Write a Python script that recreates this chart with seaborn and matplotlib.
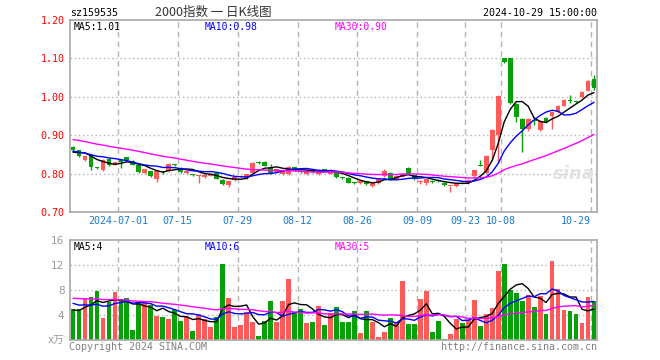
import numpy as np
import pandas as pd
import matplotlib
matplotlib.use("Agg")
import matplotlib.pyplot as plt
import seaborn as sns

# 交易日 (2024-06-19 ~ 2024-10-29), 去掉节假日
start_date = "2024-06-19"
end_date = "2024-10-29"
holidays = ["2024-09-16", "2024-09-17", "2024-10-01", "2024-10-02",
            "2024-10-03", "2024-10-04", "2024-10-07"]
tick_dates = ["2024-07-01", "2024-07-15", "2024-07-29", "2024-08-12", "2024-08-26",
              "2024-09-09", "2024-09-23", "2024-10-08", "2024-10-29"]
tick_labels = ["2024-07-01", "07-15", "07-29", "08-12", "08-26",
               "09-09", "09-23", "10-08", "10-29"]

# 日K数据
open_ = [0.868, 0.861, 0.836, 0.849, 0.816, 0.810, 0.839, 0.823, 0.835, 0.842,
         0.834, 0.823, 0.801, 0.807, 0.787, 0.804, 0.806, 0.823, 0.815, 0.802,
         0.798, 0.794, 0.790, 0.795, 0.801, 0.784, 0.770, 0.784, 0.790, 0.789,
         0.801, 0.829, 0.831, 0.814, 0.805, 0.798, 0.798, 0.816, 0.807, 0.798,
         0.806, 0.800, 0.811, 0.800, 0.802, 0.790, 0.789, 0.776, 0.775, 0.781,
         0.768, 0.775, 0.794, 0.802, 0.787, 0.792, 0.814, 0.796, 0.778, 0.776,
         0.780, 0.782, 0.776, 0.767, 0.768, 0.780, 0.776, 0.793, 0.821, 0.801,
         0.861, 0.900, 1.101, 1.100, 0.981, 0.942, 0.915, 0.938, 0.914, 0.945,
         0.950, 0.961, 0.977, 0.991, 0.988, 0.999, 1.016, 1.046]
high = [0.872, 0.862, 0.846, 0.850, 0.818, 0.838, 0.840, 0.831, 0.838, 0.844,
        0.835, 0.824, 0.813, 0.808, 0.807, 0.806, 0.827, 0.826, 0.816, 0.807,
        0.800, 0.797, 0.798, 0.800, 0.803, 0.786, 0.782, 0.791, 0.796, 0.800,
        0.830, 0.833, 0.833, 0.826, 0.812, 0.812, 0.819, 0.818, 0.809, 0.808,
        0.808, 0.812, 0.813, 0.812, 0.803, 0.792, 0.790, 0.778, 0.782, 0.782,
        0.778, 0.786, 0.812, 0.803, 0.796, 0.801, 0.816, 0.797, 0.784, 0.786,
        0.783, 0.785, 0.777, 0.769, 0.777, 0.781, 0.785, 0.810, 0.835, 0.848,
        0.915, 1.005, 1.101, 1.101, 0.983, 0.944, 0.945, 0.948, 0.940, 0.947,
        0.963, 0.978, 0.993, 1.005, 0.989, 1.014, 1.044, 1.057]
low = [0.857, 0.842, 0.834, 0.809, 0.812, 0.808, 0.821, 0.822, 0.815, 0.833,
       0.822, 0.802, 0.799, 0.790, 0.777, 0.800, 0.804, 0.820, 0.801, 0.800,
       0.795, 0.775, 0.788, 0.793, 0.786, 0.771, 0.765, 0.782, 0.788, 0.787,
       0.800, 0.826, 0.819, 0.799, 0.803, 0.796, 0.796, 0.808, 0.802, 0.796,
       0.802, 0.797, 0.806, 0.798, 0.788, 0.787, 0.775, 0.773, 0.773, 0.770,
       0.764, 0.774, 0.792, 0.784, 0.785, 0.790, 0.798, 0.784, 0.772, 0.771,
       0.776, 0.779, 0.769, 0.753, 0.766, 0.775, 0.774, 0.791, 0.819, 0.798,
       0.835, 0.827, 1.088, 0.980, 0.935, 0.857, 0.910, 0.926, 0.912, 0.933,
       0.916, 0.959, 0.975, 0.985, 0.985, 0.997, 1.014, 1.018]
close = [0.861, 0.846, 0.845, 0.816, 0.815, 0.836, 0.823, 0.830, 0.830, 0.835,
         0.823, 0.804, 0.812, 0.794, 0.806, 0.803, 0.825, 0.822, 0.804, 0.806,
         0.797, 0.795, 0.797, 0.798, 0.787, 0.773, 0.781, 0.790, 0.795, 0.799,
         0.828, 0.828, 0.820, 0.801, 0.811, 0.810, 0.817, 0.810, 0.803, 0.806,
         0.804, 0.804, 0.807, 0.810, 0.792, 0.789, 0.776, 0.775, 0.781, 0.772,
         0.776, 0.785, 0.807, 0.785, 0.795, 0.800, 0.799, 0.785, 0.780, 0.785,
         0.779, 0.781, 0.770, 0.768, 0.776, 0.777, 0.783, 0.809, 0.820, 0.846,
         0.914, 1.002, 1.090, 0.983, 0.948, 0.915, 0.942, 0.937, 0.937, 0.935,
         0.961, 0.976, 0.992, 0.990, 0.987, 1.012, 1.042, 1.024]
# 成交量 (万)
volume = [4.96, 4.96, 6.72, 6.93, 7.84, 3.57, 6.13, 7.73, 6.56, 6.72,
          1.65, 6.13, 6.13, 5.60, 3.90, 3.73, 3.36, 4.80, 3.09, 3.63,
          1.49, 4.10, 3.31, 2.13, 3.63, 12.16, 6.77, 2.13, 2.40, 4.53,
          2.93, 0.69, 3.09, 6.29, 2.93, 6.29, 9.76, 4.43, 4.96, 2.77,
          2.93, 5.44, 2.40, 4.27, 5.33, 2.93, 2.93, 4.64, 1.17, 4.64,
          2.93, 0.53, 1.33, 3.57, 2.67, 9.49, 2.56, 2.56, 6.56, 7.84,
          1.33, 3.09, 0.10, 0.96, 3.36, 2.77, 3.20, 6.40, 2.24, 4.16,
          5.17, 11.09, 12.16, 8.00, 7.57, 6.29, 7.20, 5.33, 7.04, 4.16,
          12.64, 8.16, 4.80, 4.64, 4.16, 2.77, 6.93, 6.24]

# 图外之前29个交易日 (估计, 只用于均线)
prev_close = [0.925, 0.922, 0.918, 0.915, 0.912, 0.916, 0.910, 0.905, 0.908, 0.903,
              0.900, 0.902, 0.897, 0.895, 0.899, 0.893, 0.890, 0.894, 0.888, 0.885,
              0.872, 0.866, 0.860, 0.855, 0.850, 0.853, 0.848, 0.856, 0.862]
prev_volume = [6.2, 7.5, 8.1, 6.8, 7.4, 6.0, 7.9, 8.4, 6.6, 7.1,
               6.9, 7.8, 6.3, 7.0, 7.6, 6.5, 7.2, 6.8, 7.3, 6.0,
               7.8, 6.4, 7.2, 6.5, 6.8, 5.3, 4.2, 4.9, 4.6]

ma_windows = [5, 10, 30]
price_ma_text = ["MA5:1.01", "MA10:0.98", "MA30:0.90"]
vol_ma_text = ["MA5:4", "MA10:6", "MA30:5"]

RED = "#ff5a5a"
GREEN = "#08a008"
MA_COLORS = ["black", "#0000ff", "#ff00ff"]
GRID = "#b4b4b4"
FRAME = "#a8a8a8"

days = pd.bdate_range(start_date, end_date)
days = days[~days.isin(pd.to_datetime(holidays))]
n = len(days)
idx = np.arange(n)
tick_idx = np.array([days.get_loc(pd.Timestamp(d)) for d in tick_dates])

o = np.array(open_)
h = np.array(high)
l = np.array(low)
c = np.array(close)
v = np.array(volume)
colors = np.where(c > o, RED, GREEN)

close_all = pd.Series(prev_close + close)
vol_all = pd.Series(prev_volume + volume)

sns.set_theme(style="white")
plt.rcParams["font.family"] = ["DejaVu Sans Mono", "Noto Sans CJK SC"]

W, H = 660, 360
fig = plt.figure(figsize=(6.6, 3.6), dpi=100)
fig.patch.set_facecolor("white")


def fx(x):
    return x / W


def fy(y):
    return 1 - y / H


ax = fig.add_axes([fx(70), fy(212), 527 / W, 192 / H])
axv = fig.add_axes([fx(70), fy(340), 527 / W, 100 / H])

# --- K线 ---
ax.vlines(idx, l, h, colors=colors, linewidth=1, zorder=2)
body_h = np.maximum(np.abs(c - o), 0.0028)
ax.bar(idx, body_h, bottom=np.minimum(o, c), width=0.8, color=colors,
       linewidth=0, zorder=3)
for w, col in zip(ma_windows, MA_COLORS):
    ma = close_all.rolling(w).mean().iloc[-n:].to_numpy()
    sns.lineplot(x=idx, y=ma, ax=ax, color=col, linewidth=1, zorder=4)

# --- 成交量 ---
axv.bar(idx, v, width=0.8, color=colors, linewidth=0, zorder=2)
for w, col in zip(ma_windows, MA_COLORS):
    ma = vol_all.rolling(w).mean().iloc[-n:].to_numpy()
    sns.lineplot(x=idx, y=ma, ax=axv, color=col, linewidth=1, zorder=4)

for a in (ax, axv):
    a.set_xlim(-0.5, n - 0.5)
    a.set_xlabel("")
    a.set_ylabel("")
    for t in tick_idx:
        a.axvline(t - 0.5, color=GRID, linestyle=(0, (4, 3)), linewidth=1, zorder=0)
    for s in a.spines.values():
        s.set_color(FRAME)
        s.set_linewidth(1.2)
    a.tick_params(length=0)

ax.set_ylim(0.70, 1.20)
price_ticks = [0.70, 0.80, 0.90, 1.00, 1.10, 1.20]
for t in price_ticks[1:-1]:
    ax.axhline(t, color=GRID, linestyle=(0, (1, 2)), linewidth=1, zorder=0)
ax.set_yticks(price_ticks)
ax.set_yticklabels([f"{t:.2f}" for t in price_ticks], color="#ff0000", fontsize=7.2)
ax.tick_params(axis="y", pad=4)
ax.set_xticks(tick_idx - 0.5)
ax.set_xticklabels(tick_labels, color="#1a7ad0", fontsize=7.2)
ax.get_xticklabels()[-1].set_horizontalalignment("right")
ax.tick_params(axis="x", pad=3)

axv.set_ylim(0, 16)
for t in [4, 8, 12]:
    axv.axhline(t, color=GRID, linestyle=(0, (1, 2)), linewidth=1, zorder=0)
axv.set_yticks([0, 4, 8, 12, 16])
axv.set_yticklabels(["x万", "4", "8", "12", "16"], color="#999999", fontsize=7.5,
                    family=["DejaVu Sans", "Noto Sans CJK SC"])
axv.tick_params(axis="y", pad=4)
axv.set_xticks([])

# 新浪水印
ax.text(0.955, 0.2, "sina", transform=ax.transAxes, ha="center", va="center",
        fontsize=13, style="italic", weight="bold", color="#e2e2e2",
        family="DejaVu Sans", zorder=1)

# --- 文字 ---
fig.text(fx(70), fy(13), "sz159535", ha="left", va="center", fontsize=7.2, color="black")
fig.text(fx(213), fy(12), "2000指数 一 日K线图", ha="center", va="center", fontsize=9,
         color="#333333", family=["Noto Sans CJK SC", "DejaVu Sans"])
fig.text(fx(597), fy(13), "2024-10-29 15:00:00", ha="right", va="center",
         fontsize=7.2, color="black")

for x0, txt, col in zip([74, 205, 335], price_ma_text, MA_COLORS):
    fig.text(fx(x0), fy(27), txt, ha="left", va="center", fontsize=7, color=col)
for x0, txt, col in zip([74, 205, 335], vol_ma_text, MA_COLORS):
    fig.text(fx(x0), fy(247), txt, ha="left", va="center", fontsize=7, color=col)

fig.text(fx(69), fy(347), "Copyright 2024 SINA.COM", ha="left", va="center",
         fontsize=7.2, color="#808080")
fig.text(fx(597), fy(347), "http://finance.sina.com.cn", ha="right", va="center",
         fontsize=7.2, color="#808080")

fig.savefig("out.png", dpi=100)
